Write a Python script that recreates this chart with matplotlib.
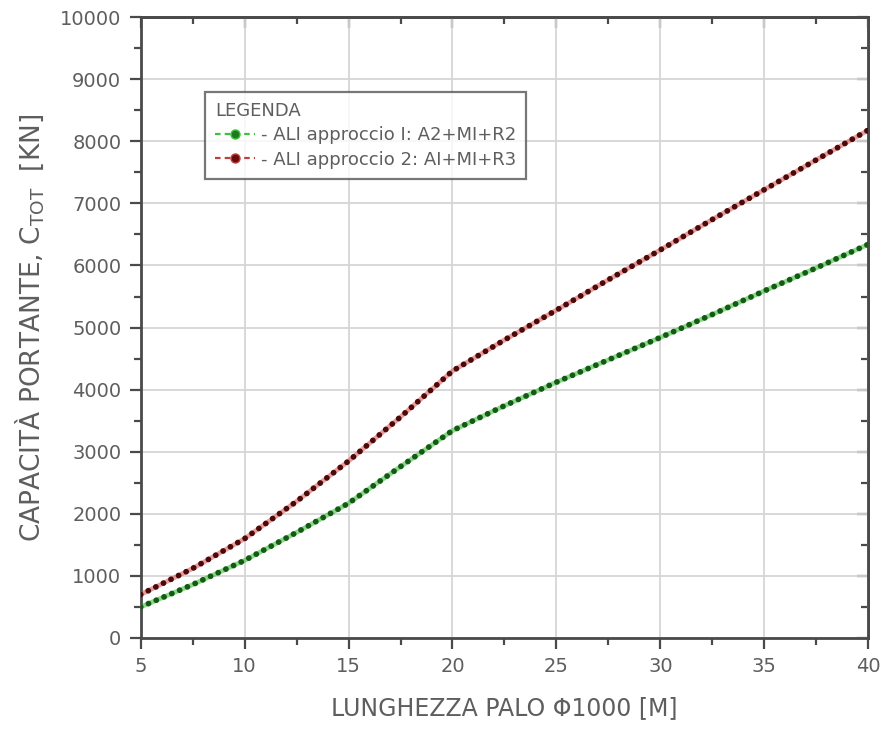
import matplotlib
matplotlib.use("Agg")
import matplotlib.pyplot as plt
from matplotlib.lines import Line2D
from matplotlib.ticker import MultipleLocator

# lunghezza palo [m]
lunghezza = [5, 7.5, 10, 12.5, 15, 17.5, 20, 22.5, 25, 27.5, 30, 32.5, 35, 37.5, 40]
# capacita portante [kN]
app1 = [500, 860, 1250, 1700, 2170, 2760, 3340, 3740, 4120, 4480, 4840, 5210, 5590, 5960, 6340]
app2 = [700, 1120, 1600, 2200, 2850, 3560, 4300, 4800, 5280, 5770, 6250, 6740, 7220, 7700, 8180]
nomi = ["- ALI approccio I: A2+MI+R2", "- ALI approccio 2: AI+MI+R3"]

plt.rcParams['font.family'] = ['DejaVu Sans']
plt.rcParams['lines.scale_dashes'] = False
grigio = "#5e5e5e"
scuro_ax = "#4a4a4a"

fig = plt.figure(figsize=(8.85, 7.44), dpi=100)
ax = fig.add_axes([0.159, 0.1425, 0.822, 0.8345])

serie = [(app1, "#3cc23c", "#145a14"), (app2, "#e05a5a", "#4a0a0a")]
for y, chiaro, scuro in serie:
    ax.plot(lunghezza, y, color=chiaro, lw=3.4, alpha=0.6, solid_capstyle='round', zorder=3)
    ax.plot(lunghezza, y, color=scuro, lw=4.2, ls=(0, (0.001, 6.1)),
            dash_capstyle='round', zorder=4)

ax.set_xlim(5, 40)
ax.set_ylim(0, 10000)
ax.xaxis.set_major_locator(MultipleLocator(5))
ax.xaxis.set_minor_locator(MultipleLocator(2.5))
ax.yaxis.set_major_locator(MultipleLocator(1000))
ax.yaxis.set_minor_locator(MultipleLocator(500))
ax.grid(True, which='major', color="#d6d6d6", lw=1.3, zorder=0)

for s in ax.spines.values():
    s.set_color(scuro_ax)
    s.set_linewidth(2)

ax.tick_params(which='both', direction='out', color=scuro_ax, width=1.6,
               labelcolor=grigio, labelsize=14)
ax.tick_params(which='major', length=8, pad=6)
ax.tick_params(which='minor', length=5)

# tacche interne sul lato alto e destro
sopra = ax.secondary_xaxis('top')
destra = ax.secondary_yaxis('right')
sopra.xaxis.set_major_locator(MultipleLocator(5))
sopra.xaxis.set_minor_locator(MultipleLocator(2.5))
destra.yaxis.set_major_locator(MultipleLocator(1000))
destra.yaxis.set_minor_locator(MultipleLocator(500))
for sec in (sopra, destra):
    sec.tick_params(which='both', direction='in', color=scuro_ax, width=1.6,
                    labeltop=False, labelright=False)
    sec.tick_params(which='major', length=8)
    sec.tick_params(which='minor', length=5)
    for s in sec.spines.values():
        s.set_color(scuro_ax)
        s.set_linewidth(2)

ax.set_xlabel("LUNGHEZZA PALO Φ1000 [M]", fontsize=17, color=grigio, labelpad=14)
ax.set_ylabel("CAPACITÀ PORTANTE, C$_{\\mathregular{TOT}}$  [KN]", fontsize=19,
              color=grigio, labelpad=10)

maniglie = [
    Line2D([], [], color="#3cc23c", ls=(0, (4, 3)), lw=1.6, marker='o', ms=6.5,
           mfc="#1f7a1f", mec="#3cc23c"),
    Line2D([], [], color="#c04040", ls=(0, (4, 3)), lw=1.6, marker='o', ms=6.5,
           mfc="#6a0a0a", mec="#c04040"),
]
leg = ax.legend(maniglie, nomi, title="LEGENDA", loc='upper left',
                bbox_to_anchor=(0.089, 0.879), borderaxespad=0, fontsize=13,
                title_fontsize=13, frameon=True, fancybox=False, handlelength=2.2,
                handletextpad=0.3, labelspacing=0.35, borderpad=0.55,
                alignment='left', labelcolor=grigio)
leg.get_title().set_color(grigio)
leg.get_frame().set_edgecolor("#555555")
leg.get_frame().set_linewidth(1.6)

fig.savefig("out.png", dpi=100, facecolor="white")
